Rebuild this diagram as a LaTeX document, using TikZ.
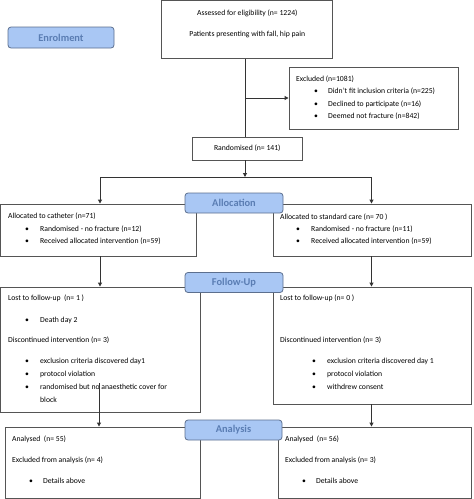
\documentclass[tikz,border=0pt]{standalone}
\usepackage{fontspec}
\setmainfont{Carlito}
\usetikzlibrary{arrows.meta,calc}
\definecolor{lblfill}{HTML}{A9C7F4}
\definecolor{lbldraw}{HTML}{5C6F8E}
\definecolor{lbltext}{HTML}{5A7DB3}
\definecolor{boxline}{HTML}{555555}
\definecolor{conn}{HTML}{333333}
\begin{document}
\begin{tikzpicture}[x=1pt,y=-1pt,
  box/.style={draw=boxline,line width=0.9pt,minimum width=#1,inner sep=0pt},
  lbl/.style={draw=lbldraw,line width=0.8pt,fill=lblfill,rounded corners=3pt,minimum width=98pt,minimum height=20pt,inner sep=0pt,font=\fontsize{10.4}{12}\selectfont\bfseries,text=lbltext},
  txt/.style={anchor=west,inner sep=0pt,font=\fontsize{7.7}{9}\selectfont,text height=5.4pt,text depth=1.6pt},
  ctxt/.style={inner sep=0pt,font=\fontsize{7.7}{9}\selectfont,text height=5.4pt,text depth=1.6pt},
  conn/.style={draw=conn,line width=0.9pt},
  arr/.style={conn,-{Triangle[length=4pt,width=4pt]}}]
\useasboundingbox (0,0) rectangle (474,499);
\newcommand\bl[4]{\node[txt] (#1) at (#2,#3) {#4};}
\newcommand\bul[5]{\node[txt] (#1b) at (#2,#4) {\textbullet}; \node[txt] (#1) at (#3,#4) {#5};}
% boxes
\node[box=171pt,minimum height=58.5pt] (top) at (247.3,29.5) {};
\node[box=169pt,minimum height=62pt] (excl) at (373.5,98) {};
\node[box=110pt,minimum height=23pt] (rand) at (247.3,148.5) {};
\node[box=195.5pt,minimum height=52pt] (allocL) at (98.25,230) {};
\node[box=198pt,minimum height=52pt] (allocR) at (372,230) {};
\node[box=199.5pt,minimum height=125pt] (fuL) at (100.25,349.5) {};
\node[box=198pt,minimum height=117pt] (fuR) at (372,345.5) {};
\node[box=195pt,minimum height=71pt] (anL) at (102.5,462.5) {};
\node[box=193pt,minimum height=71pt] (anR) at (374.5,462.5) {};
% texts
\node[ctxt] (t1) at (247.3,14) {Assessed for eligibility (n= 1224)};
\node[ctxt] (t2) at (247.3,35) {Patients presenting with fall, hip pain};
\node[ctxt] (t3) at (247.3,149) {Randomised (n= 141)};
\bl{e0}{296}{80}{Excluded (n=1081)}
\bul{e1}{314}{328}{92}{Didn’t fit inclusion criteria (n=225)}
\bul{e2}{314}{328}{105}{Declined to participate (n=16)}
\bul{e3}{314}{328}{117}{Deemed not fracture (n=842)}
\bl{a0}{8}{217}{Allocated to catheter (n=71)}
\bul{a1}{25}{40}{230}{Randomised - no fracture (n=12)}
\bul{a2}{25}{40}{242}{Received allocated intervention (n=59)}
\bl{b0}{280}{218}{Allocated to standard care (n= 70 )}
\bul{b1}{296}{311}{230}{Randomised - no fracture (n=11)}
\bul{b2}{296}{311}{242}{Received allocated intervention (n=59)}
\bl{f0}{8}{299}{Lost to follow-up\ \ (n= 1 )}
\bul{f1}{25}{40}{321}{Death day 2}
\bl{f2}{8}{341}{Discontinued intervention (n= 3)}
\bul{f3}{25}{40}{362}{exclusion criteria discovered day1}
\bul{f4}{25}{40}{375}{protocol violation}
\bul{f5}{25}{40}{388}{randomised but no anaesthetic cover for}
\bl{f6}{40}{400.5}{block}
\bl{g0}{280}{299}{Lost to follow-up (n= 0 )}
\bl{g2}{280}{341}{Discontinued intervention (n= 3)}
\bul{g3}{312}{327}{362}{exclusion criteria discovered day 1}
\bul{g4}{312}{327}{375}{protocol violation}
\bul{g5}{312}{327}{388}{withdrew consent}
\bl{h0}{12}{440}{Analysed\ \ (n= 55)}
\bl{h1}{12}{461}{Excluded from analysis (n= 4)}
\bul{h2}{29}{43}{482}{Details above}
\bl{k0}{285}{440}{Analysed\ \ (n= 56)}
\bl{k1}{285}{461}{Excluded from analysis (n= 3)}
\bul{k2}{302}{316}{482}{Details above}
% connectors
\coordinate (sp) at (245,98);
\coordinate (split) at (245,177);
\coordinate (sl) at (100,177);
\coordinate (sr) at (371.5,177);
\coordinate (lstart) at (99,383);
\draw[conn] (top.south -| sp) -- (rand.north -| sp);
\draw[arr] (sp) -- (excl.west |- sp);
\draw[arr] (rand.south -| sp) -- (split);
\draw[conn] (sl) -- (sr);
\draw[arr] (sl) -- (allocL.north -| sl);
\draw[arr] (sr) -- (allocR.north -| sr);
\draw[arr] (allocL.south -| sl) -- (fuL.north -| sl);
\draw[arr] (allocR.south -| sr) -- (fuR.north -| sr);
\draw[arr] (lstart) -- (anL.north -| lstart);
\draw[arr] (fuR.south -| sr) -- (anR.north -| sr);
% labels
\node[lbl,minimum width=106pt,minimum height=21pt] (enrol) at (61,37.5) {Enrolment};
\node[lbl] (alloc) at (234,203) {Allocation};
\node[lbl] (fu) at (234,282.5) {Follow-Up};
\node[lbl,minimum width=97pt] (anal) at (233.5,430) {Analysis};
\end{tikzpicture}
\end{document}
